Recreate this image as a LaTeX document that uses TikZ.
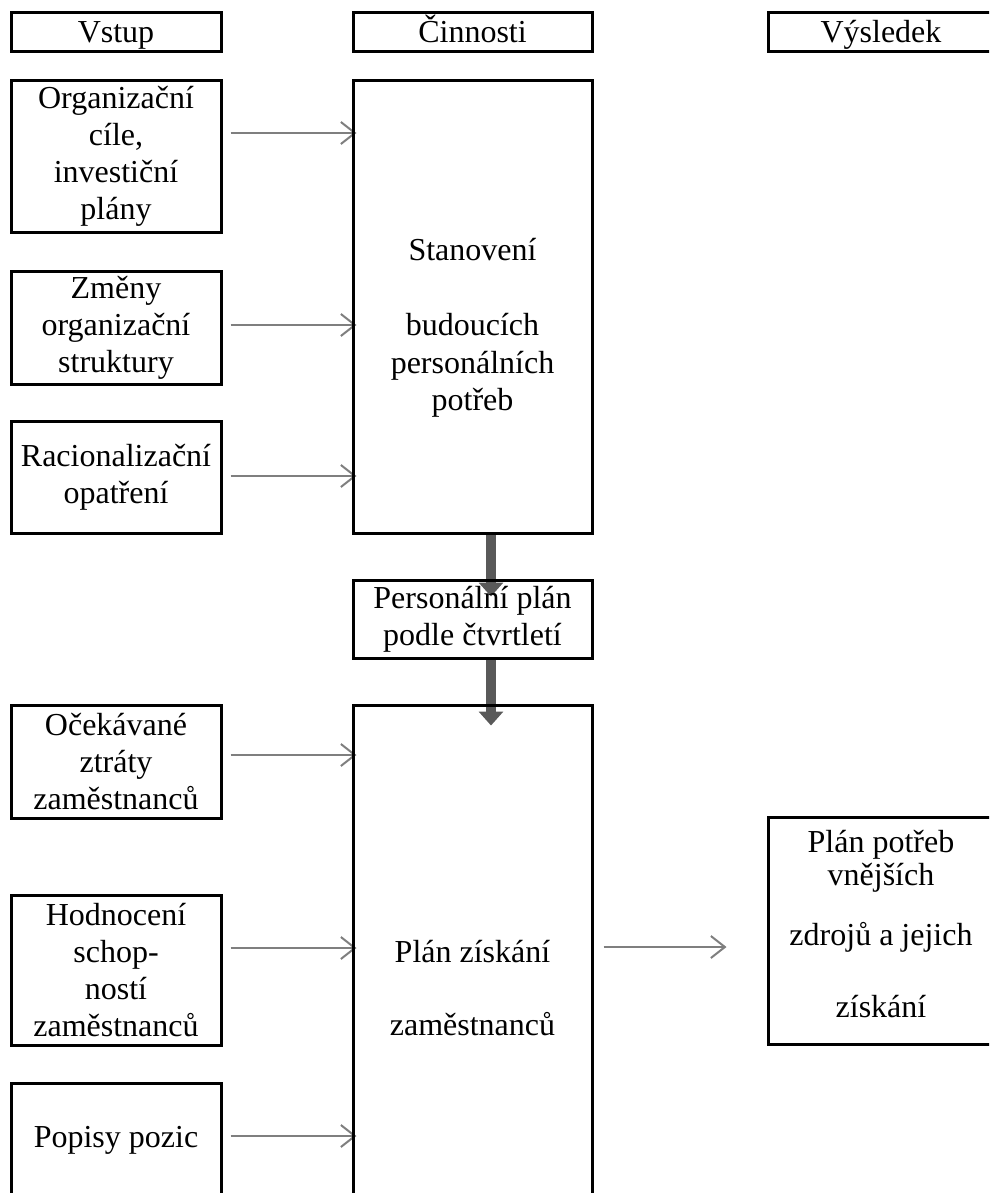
\documentclass[tikz,border=0pt]{standalone}
\usepackage{fontspec}
\setmainfont{Liberation Serif}
\usepackage{tikz}
\usetikzlibrary{arrows.meta,backgrounds}
\definecolor{arrowgray}{HTML}{7F7F7F}
\definecolor{flowgray}{HTML}{595959}

\begin{document}
\begin{tikzpicture}[
    x=1pt,y=-1pt,
    box/.style={draw=black,line width=3pt,inner sep=0pt,align=center,
                font=\fontsize{32}{37}\selectfont},
    hdr/.style={box,minimum height=39pt,text height=21pt,text depth=0pt},
    inbox/.style={box,minimum width=210pt},
    actbox/.style={box,minimum width=239pt},
    outbox/.style={box,minimum width=226pt},
    inarrow/.style={draw=arrowgray,line width=2pt,-{Straight Barb[length=14pt,width=22pt]}},
    flow/.style={draw=flowgray,line width=10pt,-{Triangle[length=14pt,width=24pt]}},
    every label/.style={align=center,font=\fontsize{32}{37.5}\selectfont}
  ]
  \useasboundingbox (0,0) rectangle (989,1193);
  \clip (0,0) rectangle (989,1193);

  % column heads
  \node[hdr,minimum width=210pt] (vstup) at (116,32.5) {Vstup};
  \node[hdr,minimum width=239pt] (cinnosti) at (472.5,32.5) {Činnosti};
  \node[hdr,minimum width=226pt] (vysledek) at (881,32.5) {Výsledek};

  % inputs
  \node[inbox,minimum height=151pt] (org) at (116,156.5) {Organizační\\cíle,\\investiční\\plány};
  \node[inbox,minimum height=113pt] (zmeny) at (116,327.5) {Změny\\organizační\\struktury};
  \node[inbox,minimum height=112pt] (racio) at (116,477) {Racionalizační\\opatření};
  \node[inbox,minimum height=113pt] (ocek) at (116,761.5) {Očekávané\\ztráty\\zaměstnanců};
  \node[inbox,minimum height=150pt] (hodn) at (116,970) {Hodnocení\\schop-\\ností\\zaměstnanců};
  \node[inbox,minimum height=114pt] (popisy) at (116,1140) {Popisy pozic};

  % activities
  \node[actbox,minimum height=452pt,
        label={[yshift=-21pt]center:{Stanovení\\[37.5pt]budoucích\\personálních\\potřeb}}]
        (stanoveni) at (472.5,307) {};
  \node[actbox,minimum height=78pt] (personalni) at (472.5,619) {Personální plán\\podle čtvrtletí};
  \node[actbox,minimum height=567pt] (ziskani) at (472.5,988.5) {Plán získání\\[36pt]zaměstnanců};

  % result
  \node[outbox,minimum height=227pt,
        label={[yshift=6pt]center:{Plán potřeb\\[-4.5pt]vnějších\\[22.5pt]zdrojů a jejich\\[34.5pt]získání}}]
        (potreb) at (881,930.5) {};

  \begin{scope}[on background layer]
    \draw[inarrow] ([xshift=8pt,yshift=23.5pt]org.east) -- ([xshift=134pt,yshift=23.5pt]org.east);
    \draw[inarrow] ([xshift=8pt,yshift=2.5pt]zmeny.east) -- ([xshift=134pt,yshift=2.5pt]zmeny.east);
    \draw[inarrow] ([xshift=8pt,yshift=1pt]racio.east) -- ([xshift=134pt,yshift=1pt]racio.east);
    \draw[inarrow] ([xshift=8pt,yshift=6.5pt]ocek.east) -- ([xshift=134pt,yshift=6.5pt]ocek.east);
    \draw[inarrow] ([xshift=8pt,yshift=22pt]hodn.east) -- ([xshift=134pt,yshift=22pt]hodn.east);
    \draw[inarrow] ([xshift=8pt,yshift=4pt]popisy.east) -- ([xshift=134pt,yshift=4pt]popisy.east);
    \draw[inarrow] ([xshift=10pt,yshift=41.5pt]ziskani.east) -- ([xshift=-40pt,yshift=-16.5pt]potreb.west);

    \draw[flow] ([xshift=18.5pt]stanoveni.south) -- ([xshift=18.5pt,yshift=-18pt]personalni.north);
    \draw[flow] ([xshift=18.5pt]personalni.south) -- ([xshift=18.5pt,yshift=-22pt]ziskani.north);
  \end{scope}
\end{tikzpicture}
\end{document}
